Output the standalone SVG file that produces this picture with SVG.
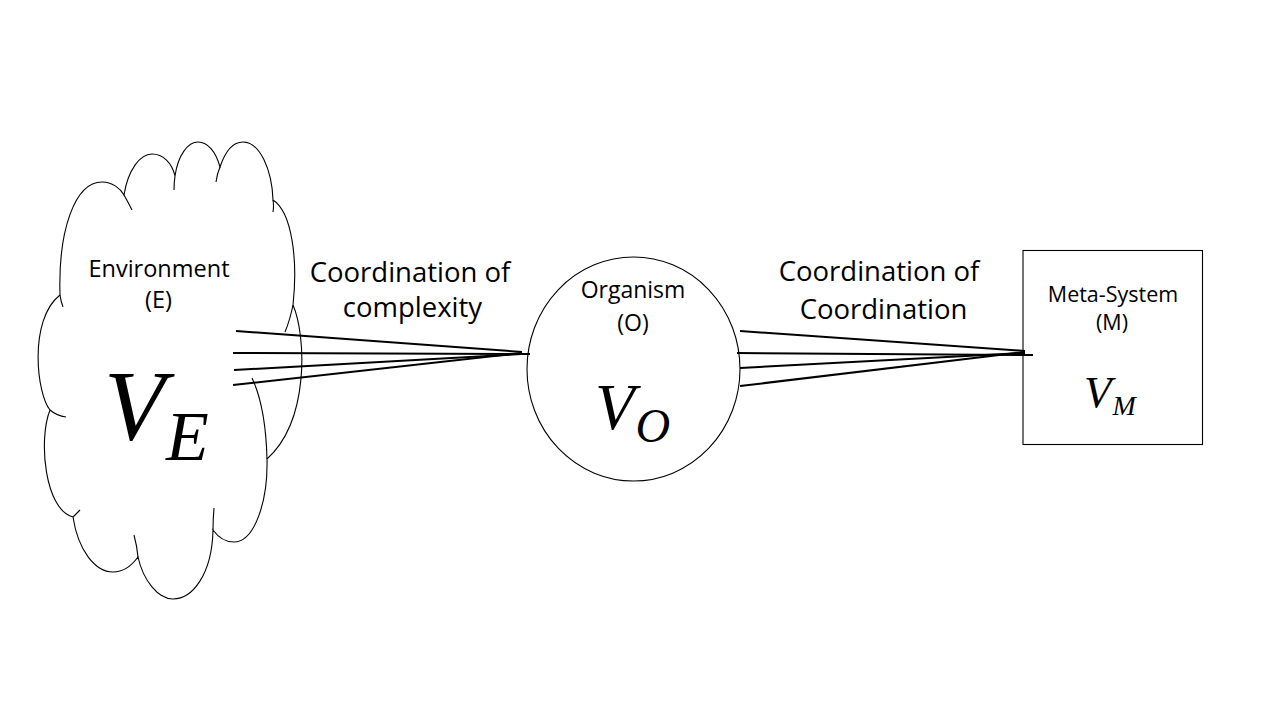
<svg xmlns="http://www.w3.org/2000/svg" width="1280" height="720" viewBox="0 0 1280 720">
<style>
.shape{fill:#fff;stroke:#000;stroke-width:1.1}
.hook{fill:none;stroke:#000;stroke-width:1.1}
.conn line{stroke:#000;stroke-width:2}
.lbl{font-family:"Open Sans","Liberation Sans",sans-serif;fill:#000;text-anchor:middle}
.math{font-family:"Liberation Serif","DejaVu Serif",serif;font-style:italic;fill:#000}
</style>
<rect width="1280" height="720" fill="#fff"/>
<g id="environment">
<path class="shape" d="M60,295 C58,230 75,182 102,182 C112,182 120,188 124,195 C128,170 140,154 152,154 C163,154 172,163 175,176 C178,155 188,142 198,142 C208,142 216,152 220,167 C225,152 233,142 243,142 C260,142 272,170 273,200 C292,212 298,260 293,305 C306,335 310,420 267,459 C268,500 255,542 234,542 C225,542 218,537 213,530 C212,575 192,599 173,599 C158,599 143,580 138,557 C130,568 122,572 113,572 C95,572 78,550 73,517 C45,510 38,440 50,410 C37,395 28,320 60,295 Z"/>
<path class="hook" d="M60,295 Q61,302 63,307 M124,195 Q128,202 132,210 M175,176 Q174,183 174,190 M220,167 Q217,174 216,182 M273,200 Q274,206 273,212 M293,305 Q290,320 285,332 M252,378 C260,395 266,420 267,459 M213,530 Q213,519 214,508 M138,557 Q137,546 134,535 M73,517 Q77,513 80,510 M50,410 Q57,416 66,417"/>
<text class="lbl" x="159" y="277" font-size="23.5">Environment</text>
<text class="lbl" x="158.5" y="308" font-size="23.5">(E)</text>
<text class="math" x="104" y="439" font-size="100">V</text>
<text class="math" x="166" y="460" font-size="70">E</text>
</g>
<g id="organism">
<ellipse class="shape" cx="633.5" cy="369" rx="106.5" ry="112"/>
<text class="lbl" x="633" y="298" font-size="23">Organism</text>
<text class="lbl" x="633" y="331" font-size="23">(O)</text>
<text class="math" x="595" y="429" font-size="65">V</text>
<text class="math" x="635.5" y="442" font-size="48">O</text>
</g>
<g id="meta-system">
<rect class="shape" x="1023" y="250.5" width="179.5" height="194" stroke-width="1.3"/>
<text class="lbl" x="1113" y="302" font-size="21.5">Meta-System</text>
<text class="lbl" x="1112" y="330" font-size="21.5">(M)</text>
<text class="math" x="1084" y="407" font-size="45">V</text>
<text class="math" x="1112.5" y="415" font-size="28">M</text>
</g>
<g id="connectors" class="conn">
<line x1="236" y1="331" x2="522" y2="352"/>
<line x1="233" y1="353" x2="530" y2="354" stroke-width="2.5"/>
<line x1="234" y1="370" x2="522" y2="354"/>
<line x1="233" y1="385" x2="522" y2="353"/>
<line x1="740" y1="331" x2="1025" y2="351"/>
<line x1="737" y1="353" x2="1033" y2="355" stroke-width="2.5"/>
<line x1="740" y1="368" x2="1025" y2="353"/>
<line x1="740" y1="386" x2="1025" y2="352"/>
</g>
<g id="labels">
<text class="lbl" x="410" y="282" font-size="27.5">Coordination of</text>
<text class="lbl" x="412.5" y="317" font-size="27.5">complexity</text>
<text class="lbl" x="879" y="281" font-size="27.5">Coordination of</text>
<text class="lbl" x="883.5" y="319" font-size="27.5">Coordination</text>
</g>
</svg>
